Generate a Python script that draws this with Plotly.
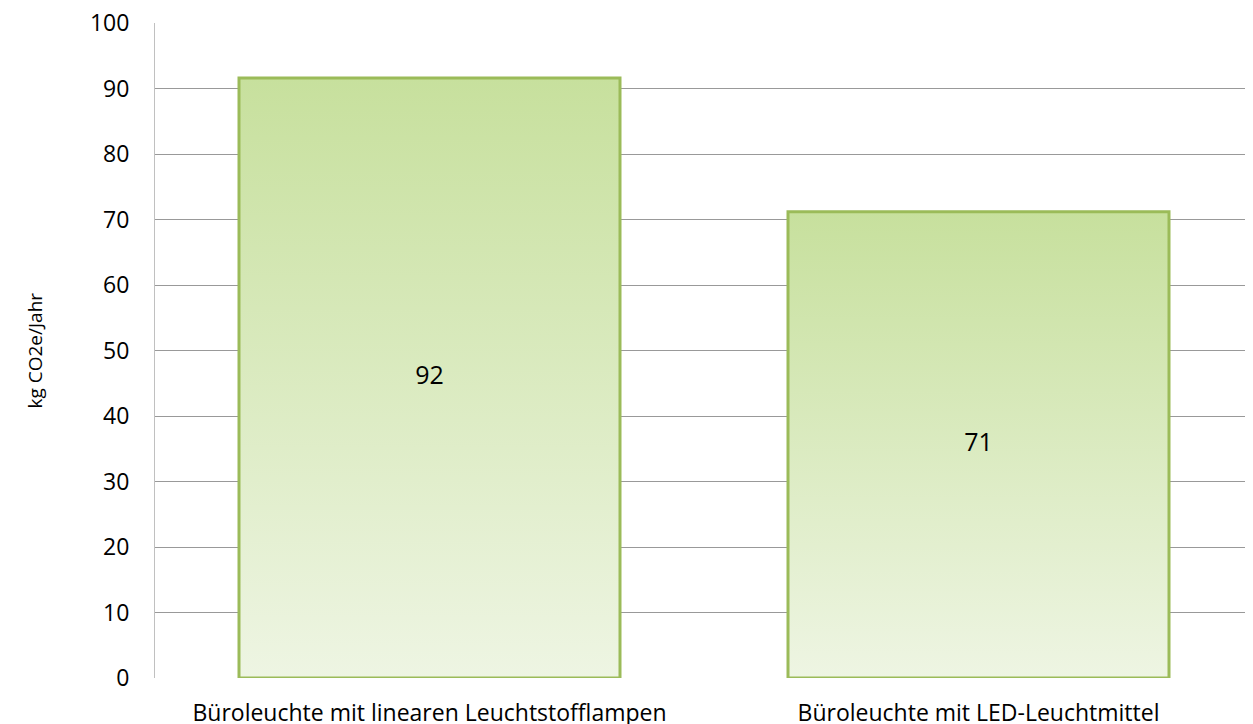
import plotly.graph_objects as go

categories = ["Büroleuchte mit linearen Leuchtstofflampen", "Büroleuchte mit LED-Leuchtmittel"]
values = [91.6, 71.2]
y_ticks = [0, 10, 20, 30, 40, 50, 60, 70, 80, 90, 100]
y_title = "kg CO2e/Jahr"

FONT = "Open Sans"
half = 0.347
fig = go.Figure()
for i, v in enumerate(values):
    fig.add_trace(go.Scatter(
        x=[i - half, i + half, i + half, i - half, i - half],
        y=[0, 0, v, v, 0],
        mode="lines", fill="toself",
        line=dict(color="#9bbb59", width=3),
        fillgradient=dict(type="vertical", start=0, stop=v,
                          colorscale=[[0, "#eef5e3"], [1, "#c7e09d"]]),
        hoverinfo="skip", showlegend=False))

fig.add_trace(go.Scatter(
    x=list(range(len(values))), y=[v / 2 for v in values],
    mode="text", text=[f"{round(v)}" for v in values],
    textfont=dict(family=FONT, size=25, color="#000000"),
    showlegend=False, hoverinfo="skip"))

fig.add_annotation(text=y_title, xref="paper", yref="paper", x=-0.1093, y=0.5,
                   textangle=-90, showarrow=False, xanchor="center", yanchor="middle",
                   font=dict(family=FONT, size=19, color="#000000"))

fig.update_layout(
    width=1245, height=716,
    margin=dict(l=147, r=0, t=15, b=46),
    paper_bgcolor="white", plot_bgcolor="white",
    font=dict(family=FONT, color="#000000"),
    xaxis=dict(range=[-0.5, 1.5], tickvals=list(range(len(categories))), ticktext=categories,
               showgrid=False, zeroline=False, showline=False, automargin=False,
               ticklabeloverflow="allow",
               tickfont=dict(size=23, family=FONT), ticks="", ticklabelstandoff=19),
    yaxis=dict(range=[0, 100], tickvals=y_ticks, showgrid=True, gridcolor="#999999", gridwidth=1,
               zeroline=False, showline=True, linecolor="#c0c0c0", linewidth=1, automargin=False,
               ticklabeloverflow="allow",
               tickfont=dict(size=23, family=FONT), ticks="", ticklabelstandoff=20),
)
fig.write_html("out.html")
